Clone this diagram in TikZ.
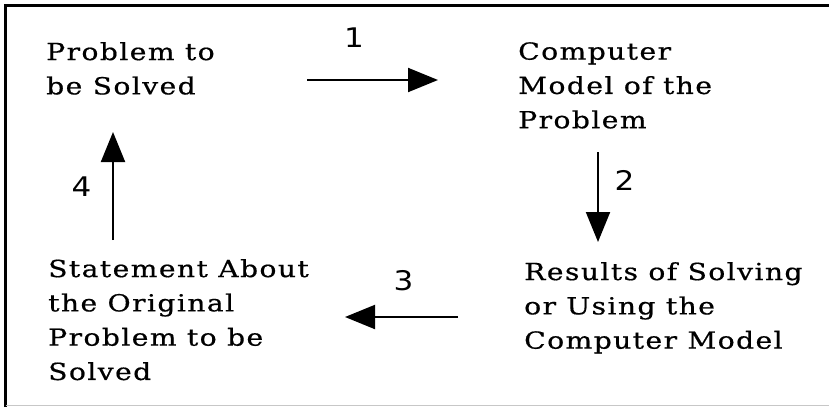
\documentclass[tikz,border=0pt]{standalone}
\usepackage{fontspec}
\usetikzlibrary{arrows.meta}
\newfontfamily\boxfont[FakeStretch=1.2,LetterSpace=6,FakeBold=0.6]{DejaVu Serif}
\newfontfamily\numfont[FakeStretch=1.15]{DejaVu Sans}

\begin{document}
\begin{tikzpicture}[x=1pt,y=-1pt,
  stage/.style={font=\boxfont\fontsize{23.5}{34.3}\selectfont, align=left,
                anchor=north west, inner sep=0pt},
  stepnum/.style={font=\numfont\fontsize{27}{30}\selectfont, inner sep=0pt},
  flow/.style={line width=2pt, -{Triangle[length=30pt,width=24pt]}}]

  \useasboundingbox (0,0) rectangle (829,407);

  % frame
  \draw[line width=2.5pt] (5.5,407) -- (5.5,5.5) -- (829,5.5);
  \draw[black!22, line width=1.5pt] (6,405.5) -- (829,405.5);

  % stages of the cycle
  \node[stage] (problem) at (46,42) {Problem to\\be Solved};
  \node[stage] (model) at (518,42) {Computer\\Model of the\\Problem};
  \node[stage] (results) at (524,262) {Results of Solving\\or Using the\\Computer Model};
  \node[stage] (statement) at (48,259) {Statement About\\the Original\\Problem to be\\Solved};

  % connector end points
  \coordinate (a1s) at (307,80);  \coordinate (a1e) at (438,80);
  \coordinate (a2s) at (598,152); \coordinate (a2e) at (598,242);
  \coordinate (a3s) at (458,317); \coordinate (a3e) at (345,317);
  \coordinate (a4s) at (113,240); \coordinate (a4e) at (113,132);

  \draw[flow] (a1s) -- (a1e);
  \draw[flow] (a2s) -- (a2e);
  \draw[flow] (a3s) -- (a3e);
  \draw[flow] (a4s) -- (a4e);

  % step numbers
  \node[stepnum] (n1) at (354,37.5) {1};
  \node[stepnum] (n2) at (624.5,180) {2};
  \node[stepnum] (n3) at (403.5,281) {3};
  \node[stepnum] (n4) at (81.5,187) {4};
\end{tikzpicture}
\end{document}
